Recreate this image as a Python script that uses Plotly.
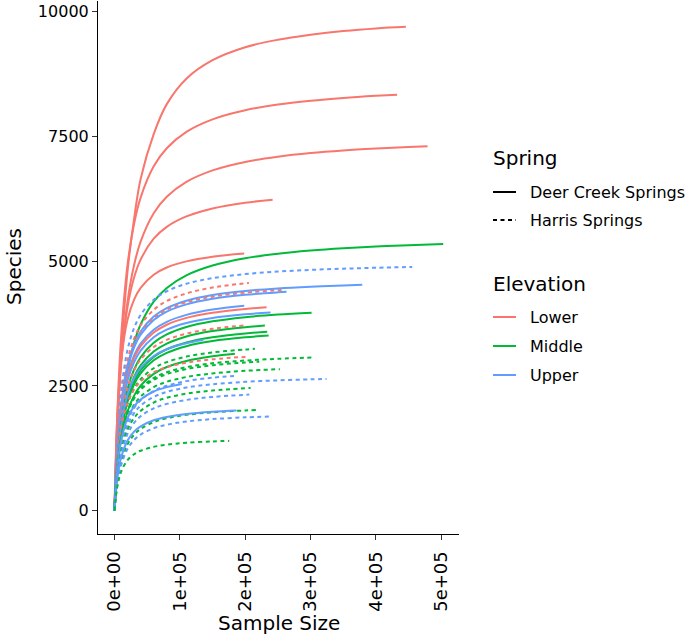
import plotly.graph_objects as go

# ---------------- data ----------------
sample_grid = [2500, 5000, 10000, 20000, 30000, 40000, 60000, 80000, 110000,
               150000, 200000, 250000, 300000, 350000, 400000, 450000]

spring = ["Deer Creek Springs"] * 6 + [
    "Harris Springs", "Harris Springs", "Deer Creek Springs", "Harris Springs",
    "Deer Creek Springs", "Deer Creek Springs", "Deer Creek Springs", "Deer Creek Springs",
    "Deer Creek Springs", "Harris Springs", "Deer Creek Springs", "Deer Creek Springs",
    "Deer Creek Springs", "Deer Creek Springs", "Harris Springs", "Deer Creek Springs",
    "Harris Springs", "Harris Springs", "Harris Springs", "Harris Springs",
    "Harris Springs", "Harris Springs", "Deer Creek Springs", "Harris Springs",
    "Harris Springs", "Harris Springs", "Deer Creek Springs", "Harris Springs",
    "Harris Springs",
]

elevation = [
    "Lower", "Lower", "Lower", "Lower", "Lower", "Middle",
    "Upper", "Lower", "Upper", "Lower", "Upper", "Upper", "Lower", "Upper",
    "Middle", "Lower", "Middle", "Middle", "Middle", "Upper", "Middle", "Middle",
    "Lower", "Middle", "Middle", "Middle", "Upper", "Upper", "Upper", "Middle",
    "Upper", "Middle", "Upper", "Upper", "Middle",
]

end_size = [
    445700, 432400, 478900, 241900, 198500, 502800,
    455400, 205600, 379000, 255600, 263200, 198500, 232700, 238800,
    301500, 198000, 230100, 233700, 235800, 135800, 214800, 184200,
    205600, 304000, 221400, 253000, 188300, 324400, 102800, 208200,
    206200, 217400, 186800, 236200, 175500,
]

species = [
    [1050, 1900, 3100, 4800, 5850, 6650, 7550, 8150, 8660, 9030, 9290, 9440, 9540, 9615, 9668, 9700],
    [1233, 2157, 3452, 4931, 5753, 6276, 6903, 7266, 7594, 7845, 8027, 8141, 8218, 8274, 8317, 8340],
    [1020, 1798, 2904, 4195, 4924, 5393, 5961, 6292, 6591, 6822, 6991, 7095, 7168, 7220, 7259, 7291, 7306],
    [1128, 1924, 2974, 4089, 4674, 5033, 5452, 5690, 5899, 6058, 6173, 6234],
    [1277, 2062, 2979, 3830, 4233, 4468, 4731, 4875, 4998, 5091, 5154],
    [631, 1133, 1882, 2812, 3366, 3733, 4191, 4465, 4717, 4914, 5060, 5151, 5214, 5260, 5295, 5323, 5346],
    [927, 1564, 2383, 3229, 3661, 3925, 4229, 4399, 4549, 4662, 4743, 4793, 4827, 4851, 4870, 4886],
    [833, 1421, 2196, 3020, 3451, 3717, 4027, 4202, 4356, 4474, 4566],
    [805, 1374, 2123, 2919, 3336, 3592, 3892, 4061, 4210, 4324, 4406, 4456, 4490, 4515, 4527],
    [799, 1363, 2106, 2896, 3309, 3564, 3861, 4029, 4177, 4290, 4371, 4425],
    [791, 1349, 2085, 2867, 3276, 3528, 3822, 3989, 4136, 4247, 4327, 4377, 4387],
    [751, 1281, 1979, 2722, 3111, 3350, 3629, 3787, 3926, 4032, 4107],
    [739, 1261, 1948, 2679, 3062, 3298, 3572, 3728, 3865, 3969, 4044, 4077],
    [719, 1227, 1896, 2608, 2980, 3209, 3477, 3628, 3761, 3863, 3936, 3973],
    [629, 1093, 1730, 2442, 2830, 3075, 3366, 3533, 3682, 3797, 3880, 3931, 3967],
    [679, 1158, 1790, 2461, 2813, 3029, 3282, 3424, 3550, 3646, 3713],
    [596, 1036, 1640, 2315, 2684, 2915, 3191, 3350, 3492, 3600, 3679, 3710],
    [576, 1001, 1584, 2236, 2592, 2816, 3083, 3236, 3373, 3477, 3553, 3587],
    [563, 979, 1549, 2187, 2535, 2754, 3015, 3164, 3298, 3400, 3475, 3510],
    [642, 1095, 1692, 2326, 2659, 2863, 3102, 3237, 3356, 3420],
    [591, 1008, 1557, 2141, 2447, 2635, 2855, 2979, 3089, 3172, 3232, 3245],
    [513, 891, 1410, 1990, 2307, 2507, 2744, 2880, 3002, 3095, 3145],
    [647, 1079, 1619, 2158, 2428, 2590, 2774, 2877, 2967, 3035, 3087],
    [550, 938, 1450, 1994, 2279, 2455, 2659, 2775, 2877, 2955, 3010, 3045, 3070],
    [543, 926, 1431, 1968, 2249, 2422, 2624, 2738, 2839, 2916, 2971, 2987],
    [512, 874, 1351, 1858, 2123, 2286, 2477, 2584, 2680, 2752, 2804, 2837],
    [497, 847, 1309, 1800, 2057, 2215, 2400, 2504, 2597, 2667, 2707],
    [472, 805, 1244, 1711, 1956, 2106, 2282, 2381, 2469, 2535, 2583, 2613, 2633, 2640],
    [557, 929, 1394, 1858, 2090, 2230, 2389, 2477, 2540],
    [449, 765, 1183, 1626, 1859, 2001, 2168, 2263, 2346, 2409, 2460],
    [424, 724, 1119, 1539, 1759, 1894, 2052, 2141, 2220, 2280, 2327],
    [367, 627, 969, 1332, 1522, 1639, 1776, 1853, 1921, 1973, 2010, 2020],
    [423, 705, 1057, 1409, 1586, 1691, 1812, 1879, 1938, 1982, 2007],
    [342, 583, 901, 1239, 1416, 1525, 1652, 1724, 1788, 1836, 1871, 1887],
    [320, 526, 775, 1015, 1132, 1202, 1280, 1323, 1361, 1389, 1400],
]

x_tick_vals = [0, 100000, 200000, 300000, 400000, 500000]
x_tick_text = ["0e+00", "1e+05", "2e+05", "3e+05", "4e+05", "5e+05"]
y_tick_vals = [0, 2500, 5000, 7500, 10000]
y_tick_text = ["0", "2500", "5000", "7500", "10000"]

spring_levels = ["Deer Creek Springs", "Harris Springs"]
elevation_levels = ["Lower", "Middle", "Upper"]

# ---------------- styles ----------------
colors = {"Lower": "#F8766D", "Middle": "#00BA38", "Upper": "#619CFF"}
dashes = {"Deer Creek Springs": "solid", "Harris Springs": "4px,3.5px"}
FONT = "DejaVu Sans"
W, H = 685, 637
L, R, T, B = 98, 459, 1, 534

fig = go.Figure()
for sp, el, n_end, sv in zip(spring, elevation, end_size, species):
    xs = [0] + [g for g in sample_grid if g < n_end - 10000] + [n_end]
    ys = [0] + sv
    assert len(xs) == len(ys), (n_end, len(xs), len(ys))
    fig.add_trace(go.Scatter(
        x=xs, y=ys, mode="lines",
        line=dict(color=colors[el], width=2, dash=dashes[sp], shape="spline", smoothing=1.0),
        showlegend=False, hoverinfo="skip",
    ))

axis_common = dict(
    showline=True, linecolor="black", linewidth=1.1,
    ticks="outside", ticklen=5, tickwidth=1.1, tickcolor="#333333",
    showgrid=False, zeroline=False,
)

fig.update_layout(
    width=W, height=H, autosize=False,
    margin=dict(l=L, r=W - R, t=T, b=H - B, pad=0),
    paper_bgcolor="white", plot_bgcolor="white",
    font=dict(family=FONT, color="black"),
    xaxis=dict(range=[-25200, 527000], tickvals=x_tick_vals, ticktext=x_tick_text,
               tickangle=-90, ticklabelstandoff=4,
               tickfont=dict(size=18, family=FONT, color="black"), **axis_common),
    yaxis=dict(range=[-467, 10217], tickvals=y_tick_vals, ticktext=y_tick_text,
               tickfont=dict(size=16, family=FONT, color="black"), **axis_common),
    showlegend=False,
)

def px(xp):
    return (xp - L) / (R - L)

def py(yp):
    return (B - yp) / (B - T)

annotations = [
    dict(text="Sample Size", x=px(279), y=py(623), xref="paper", yref="paper",
         showarrow=False, xanchor="center", yanchor="middle", font=dict(size=20, family=FONT)),
    dict(text="Species", x=px(14), y=py(267), xref="paper", yref="paper", textangle=-90,
         showarrow=False, xanchor="center", yanchor="middle", font=dict(size=20, family=FONT)),
]
shapes = []

def legend_block(title, title_y, labels, ys, line_styles):
    annotations.append(dict(text=title, x=px(491), y=py(title_y), xref="paper", yref="paper",
                            showarrow=False, xanchor="left", yanchor="middle",
                            font=dict(size=20, family=FONT)))
    for lab, yy, (col, dsh) in zip(labels, ys, line_styles):
        shapes.append(dict(type="line", xref="paper", yref="paper",
                           x0=px(493), x1=px(516), y0=py(yy), y1=py(yy),
                           line=dict(color=col, width=2, dash=dsh)))
        annotations.append(dict(text=lab, x=px(528), y=py(yy), xref="paper", yref="paper",
                                showarrow=False, xanchor="left", yanchor="middle",
                                font=dict(size=16, family=FONT)))

legend_block("Spring", 158, spring_levels, [192, 220],
             [("black", dashes[s]) for s in spring_levels])
legend_block("Elevation", 284, elevation_levels, [317, 346, 375],
             [(colors[e], "solid") for e in elevation_levels])

fig.update_layout(annotations=annotations, shapes=shapes)
fig.write_html("out.html")
